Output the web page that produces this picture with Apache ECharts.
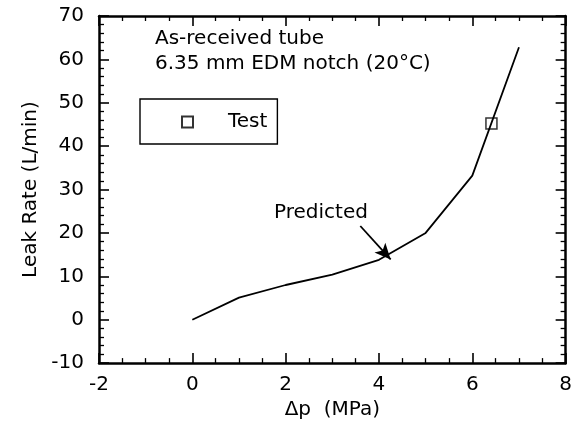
<!DOCTYPE html>
<html>
<head>
<meta charset="utf-8">
<script src="https://cdn.jsdelivr.net/npm/echarts@6/dist/echarts.min.js"></script>
<style>
html,body{margin:0;padding:0;background:#fff;}
#c{width:575px;height:425px;}
</style>
</head>
<body>
<div id="c"></div>
<script>
// Data
const predictedX = [0, 1, 2, 3, 4, 5, 6, 7];
const predictedY = [0, 5.1, 8.0, 10.4, 13.8, 20.0, 33.2, 62.8];
const testX = [6.41];
const testY = [45.2];
const xTicks = [-2, 0, 2, 4, 6, 8];
const yTicks = [-10, 0, 10, 20, 30, 40, 50, 60, 70];
const arrowFrom = [3.6, 21.6];
const arrowTo = [4.25, 13.9];

const FONT = 'DejaVu Sans';
const chart = echarts.init(document.getElementById('c'), null, {renderer: 'canvas'});

const axisCommon = {
  axisLine: {show: true, onZero: false, lineStyle: {color: '#000', width: 2.5}},
  axisTick: {show: true, inside: true, length: 10, lineStyle: {color: '#000', width: 1.6}},
  minorTick: {show: true, length: 5, lineStyle: {color: '#000', width: 1.3}},
  splitLine: {show: false},
};

const option = {
  animation: false,
  backgroundColor: '#fff',
  grid: {left: 99, right: 6, top: 16, bottom: 61, containLabel: false},
  legend: {
    show: true,
    left: 140, top: 99,
    orient: 'vertical',
    data: ['Test'],
    borderColor: '#000', borderWidth: 1.4,
    padding: [13, 10, 12, 41],
    itemWidth: 11, itemHeight: 11,
    textStyle: {fontFamily: FONT, fontSize: 20, color: '#000', padding: [0, 0, 0, 30]}
  },
  xAxis: [
    Object.assign({}, axisCommon, {
      type: 'value', min: xTicks[0], max: xTicks[xTicks.length - 1], interval: 2,
      position: 'bottom',
      minorTick: Object.assign({}, axisCommon.minorTick, {splitNumber: 4}),
      axisLabel: {fontFamily: FONT, fontSize: 20, color: '#000', margin: 12},
      name: 'Δp  (MPa)', nameLocation: 'middle', nameGap: 31,
      nameTextStyle: {fontFamily: FONT, fontSize: 20, color: '#000'}
    }),
    Object.assign({}, axisCommon, {
      type: 'value', min: xTicks[0], max: xTicks[xTicks.length - 1], interval: 2,
      position: 'top',
      minorTick: Object.assign({}, axisCommon.minorTick, {splitNumber: 4}),
      axisLabel: {show: false}
    })
  ],
  yAxis: [
    Object.assign({}, axisCommon, {
      type: 'value', min: yTicks[0], max: yTicks[yTicks.length - 1], interval: 10,
      position: 'left',
      minorTick: Object.assign({}, axisCommon.minorTick, {splitNumber: 5}),
      axisLabel: {fontFamily: FONT, fontSize: 20, color: '#000', margin: 15},
      name: 'Leak Rate (L/min)', nameLocation: 'middle', nameGap: 51,
      nameTextStyle: {fontFamily: FONT, fontSize: 20, color: '#000'}
    }),
    Object.assign({}, axisCommon, {
      type: 'value', min: yTicks[0], max: yTicks[yTicks.length - 1], interval: 10,
      position: 'right',
      minorTick: Object.assign({}, axisCommon.minorTick, {splitNumber: 5}),
      axisLabel: {show: false}
    })
  ],
  series: [
    {
      name: 'Predicted', type: 'line',
      data: predictedX.map((x, i) => [x, predictedY[i]]),
      showSymbol: false, symbol: 'none',
      lineStyle: {color: '#000', width: 1.8},
      markLine: {
        silent: true,
        symbol: ['none', 'arrow'], symbolSize: [11, 16],
        label: {show: false},
        lineStyle: {color: '#000', width: 1.8, type: 'solid'},
        data: [[{coord: arrowFrom}, {coord: arrowTo}]]
      }
    },
    {
      name: 'Test', type: 'scatter',
      data: testX.map((x, i) => [x, testY[i]]),
      symbol: 'rect', symbolSize: 11,
      itemStyle: {color: '#fff', borderColor: '#000', borderWidth: 1.5}
    }
  ],
  graphic: [
    {type: 'text', left: 155, top: 29, style: {text: 'As-received tube', fontFamily: FONT, fontSize: 20, fill: '#000'}},
    {type: 'text', left: 155, top: 54, style: {text: '6.35 mm EDM notch (20°C)', fontFamily: FONT, fontSize: 20, fill: '#000'}},
    {type: 'text', left: 274, top: 203, style: {text: 'Predicted', fontFamily: FONT, fontSize: 20, fill: '#000'}}
  ]
};
chart.setOption(option);
</script>
</body>
</html>
